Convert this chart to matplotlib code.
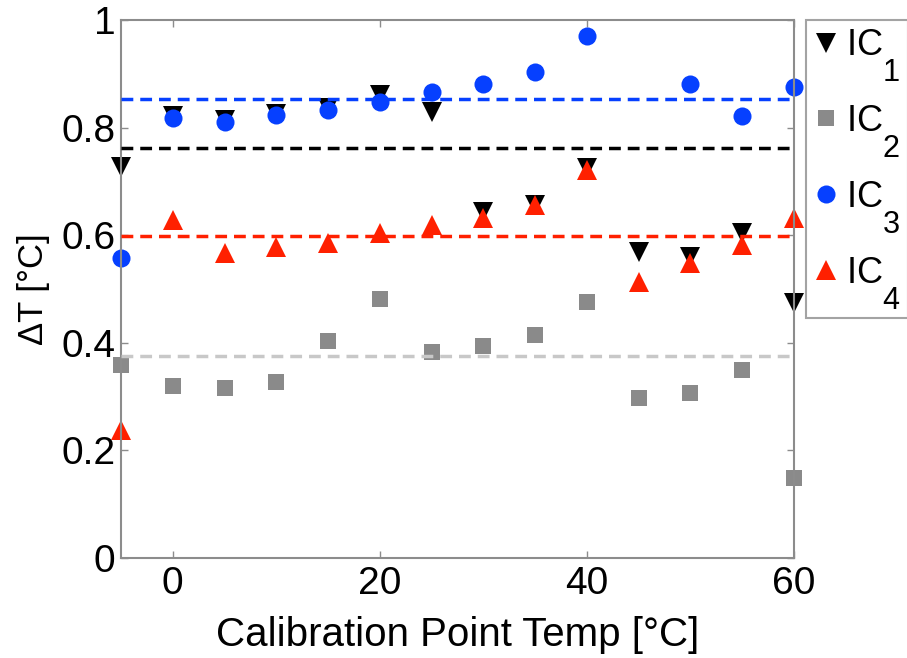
import numpy as np
import matplotlib

matplotlib.use("Agg")
import matplotlib.pyplot as plt
import matplotlib._mathtext as mathtext_mod

# calibration point temperatures [degC]
temps = [-5, 0, 5, 10, 15, 20, 25, 30, 35, 40, 45, 50, 55, 60]

# delta T per IC [degC]
ic1 = [0.727, 0.822, 0.815, 0.826, 0.836, 0.860, 0.829, 0.643, 0.656, 0.725,
       0.569, 0.560, 0.604, 0.474]
ic2 = [0.359, 0.320, 0.316, 0.327, 0.403, 0.481, 0.383, 0.394, 0.414, 0.476,
       0.297, 0.307, 0.349, 0.149]
ic3 = [0.557, 0.818, 0.810, 0.823, 0.833, 0.848, 0.866, 0.881, 0.903, 0.970,
       np.nan, 0.881, 0.822, 0.875]
ic4 = [0.238, 0.628, 0.567, 0.578, 0.585, 0.604, 0.619, 0.632, 0.656, 0.721,
       0.513, 0.548, 0.582, 0.632]

# dashed reference levels
levels = {"IC1": 0.763, "IC2": 0.375, "IC3": 0.853, "IC4": 0.598}

labels = ["IC$_1$", "IC$_2$", "IC$_3$", "IC$_4$"]

plt.rcParams["font.family"] = ["Liberation Sans", "DejaVu Sans"]
plt.rcParams["mathtext.fontset"] = "custom"
plt.rcParams["mathtext.rm"] = "Liberation Sans"
plt.rcParams["mathtext.it"] = "Liberation Sans"

# matlab-like subscripts: bigger and lower than mathtext default
mathtext_mod.SHRINK_FACTOR = 0.85
mathtext_mod.FontConstantsBase.sub1 = 1.3
mathtext_mod.FontConstantsBase.subdrop = 1.3

BLUE = "#0640FF"
RED = "#FF2000"
GRAY = "#8A8A8A"
LGRAY = "#C8C8C8"
EDGE = "#8C8C8C"

fig = plt.figure(figsize=(9.07, 6.58), dpi=100)
ax = fig.add_axes([121 / 907, 1 - 558 / 658, (794 - 121) / 907, (558 - 20) / 658])

series = [
    (ic1, "v", "black", 14),
    (ic2, "s", GRAY, 11),
    (ic3, "o", BLUE, 13),
    (ic4, "^", RED, 14),
]
handles = []
for (vals, mk, col, ms), lab in zip(series, labels):
    (h,) = ax.plot(temps, vals, linestyle="none", marker=mk, color=col,
                   markersize=ms, markeredgewidth=0, clip_on=False,
                   label=lab, zorder=2)
    handles.append(h)

line_cols = {"IC1": "black", "IC2": LGRAY, "IC3": BLUE, "IC4": RED}
for key, lvl in levels.items():
    ax.plot([temps[0], temps[-1]], [lvl, lvl], color=line_cols[key], lw=2.5,
            dashes=(3.4, 2.0), zorder=3)

ax.set_xlim(-5, 60)
ax.set_ylim(0, 1)
ax.set_xticks([0, 20, 40, 60])
ax.set_yticks([0, 0.2, 0.4, 0.6, 0.8, 1])
ax.set_yticklabels(["0", "0.2", "0.4", "0.6", "0.8", "1"])
ax.tick_params(direction="in", length=5, width=1, color=EDGE,
               top=True, right=True, labelsize=28)
ax.tick_params(axis="x", pad=6)
ax.tick_params(axis="y", pad=4)
for sp in ax.spines.values():
    sp.set_color(EDGE)
    sp.set_linewidth(1.5)

ax.set_xlabel("Calibration Point Temp [°C]", fontsize=29, labelpad=10)
ax.set_ylabel("ΔT [°C]", fontsize=25, labelpad=8)

leg = fig.legend(handles=handles, loc="upper left",
                 bbox_to_anchor=(806 / 907, 1 - 20 / 658),
                 fontsize=26, numpoints=1, handlelength=0.7,
                 handletextpad=0.2, labelspacing=0.55, borderpad=0.2,
                 borderaxespad=0, fancybox=False, frameon=True)
leg.get_frame().set_edgecolor(EDGE)
leg.get_frame().set_linewidth(1.5)

fig.savefig("out.png", dpi=100)
